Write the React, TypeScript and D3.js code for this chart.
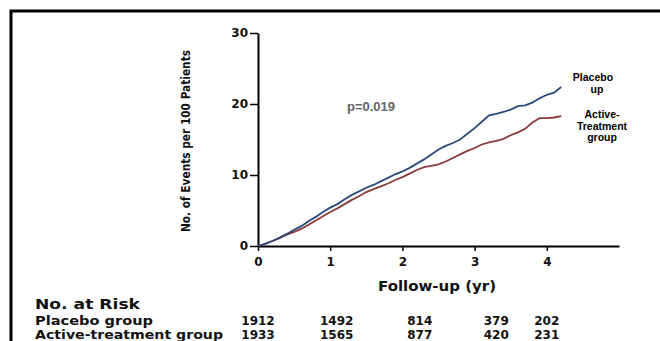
import React, { useEffect, useRef } from "react";
import * as d3 from "d3";

// follow-up times (yr) and cumulative events per 100 patients
const years = [
  0, 0.1, 0.2, 0.3, 0.4, 0.5, 0.6, 0.7, 0.8, 0.9, 1.0, 1.1, 1.2, 1.3, 1.4,
  1.5, 1.6, 1.7, 1.8, 1.9, 2.0, 2.1, 2.2, 2.3, 2.4, 2.5, 2.6, 2.7, 2.8, 2.9,
  3.0, 3.1, 3.2, 3.3, 3.4, 3.5, 3.6, 3.7, 3.8, 3.9, 4.0, 4.1, 4.2,
];
const placebo = [
  0, 0.3, 0.7, 1.2, 1.7, 2.3, 2.8, 3.5, 4.1, 4.8, 5.4, 5.9, 6.6, 7.2, 7.7,
  8.2, 8.6, 9.1, 9.6, 10.1, 10.5, 11.0, 11.6, 12.2, 12.9, 13.6, 14.1, 14.5,
  15.0, 15.8, 16.6, 17.5, 18.4, 18.6, 18.9, 19.2, 19.7, 19.8, 20.2, 20.8,
  21.3, 21.6, 22.4,
];
const active = [
  0, 0.3, 0.7, 1.1, 1.6, 2.0, 2.4, 3.0, 3.6, 4.2, 4.8, 5.3, 5.9, 6.5, 7.0,
  7.6, 8.0, 8.4, 8.8, 9.3, 9.7, 10.2, 10.7, 11.1, 11.3, 11.5, 11.9, 12.4,
  12.9, 13.4, 13.8, 14.3, 14.6, 14.8, 15.1, 15.6, 16.0, 16.5, 17.4, 18.0,
  18.0, 18.1, 18.3,
];

const xTicks = [0, 1, 2, 3, 4];
const yTicks = [0, 10, 20, 30];

// number at risk table
const riskRows = ["Placebo group", "Active-treatment group"];
const riskPlacebo = [1912, 1492, 814, 379, 202];
const riskActive = [1933, 1565, 877, 420, 231];
const riskCols = [0, 1.09, 2.24, 3.3, 4.0]; // column centres, in years

const pValue = "p=0.019";

export default function App() {
  const svgRef = useRef<SVGSVGElement>(null);

  useEffect(() => {
    const svg = d3.select(svgRef.current);
    svg.selectAll("*").remove();

    const bold = "'DejaVu Sans', sans-serif";
    const arial = "'Liberation Sans', Arial, sans-serif";

    const x = d3.scaleLinear().domain([0, 5]).range([258, 619]);
    const y = d3.scaleLinear().domain([0, 30]).range([246, 33]);

    // frame
    svg
      .append("rect")
      .attr("x", 11)
      .attr("y", 11)
      .attr("width", 720)
      .attr("height", 420)
      .attr("fill", "#fff")
      .attr("stroke", "#000")
      .attr("stroke-width", 3);

    // y axis
    const yAxis = svg
      .append("g")
      .attr("transform", `translate(${x(0)},0)`)
      .call(d3.axisLeft(y).tickValues(yTicks).tickSize(8).tickPadding(2).tickSizeOuter(0));
    yAxis.select(".domain").attr("stroke-width", 2);
    yAxis.selectAll(".tick line").attr("stroke-width", 1.5);
    yAxis
      .selectAll(".tick text")
      .attr("font-family", bold)
      .attr("font-weight", "bold")
      .attr("font-size", 12)
      .attr("fill", "#111");

    // x axis
    const xAxis = svg
      .append("g")
      .attr("transform", `translate(0,${y(0)})`)
      .call(
        d3
          .axisBottom(x)
          .tickValues(xTicks)
          .tickFormat(d3.format("d"))
          .tickSize(5)
          .tickPadding(6)
          .tickSizeOuter(0)
      );
    xAxis.select(".domain").attr("stroke-width", 2);
    xAxis.selectAll(".tick line").attr("stroke-width", 1.5);
    xAxis
      .selectAll(".tick text")
      .attr("font-family", bold)
      .attr("font-weight", "bold")
      .attr("font-size", 12)
      .attr("fill", "#111");

    // axis titles
    svg
      .append("text")
      .attr("transform", "translate(190,141) rotate(-90)")
      .attr("text-anchor", "middle")
      .attr("font-family", "'DejaVu Sans Condensed', 'DejaVu Sans', sans-serif")
      .attr("font-weight", "bold")
      .attr("font-size", 12.5)
      .attr("textLength", 182)
      .attr("lengthAdjust", "spacingAndGlyphs")
      .attr("fill", "#111")
      .text("No. of Events per 100 Patients");

    svg
      .append("text")
      .attr("x", 437)
      .attr("y", 291)
      .attr("text-anchor", "middle")
      .attr("font-family", bold)
      .attr("font-weight", "bold")
      .attr("font-size", 14)
      .attr("textLength", 118)
      .attr("lengthAdjust", "spacingAndGlyphs")
      .attr("fill", "#111")
      .text("Follow-up (yr)");

    // curves
    const line = d3
      .line<number>()
      .x((_, i) => x(years[i]))
      .y((d) => y(d));

    svg
      .append("path")
      .datum(active)
      .attr("d", line)
      .attr("fill", "none")
      .attr("stroke", "#8a3b3b")
      .attr("stroke-width", 1.8);

    svg
      .append("path")
      .datum(placebo)
      .attr("d", line)
      .attr("fill", "none")
      .attr("stroke", "#2b4a7e")
      .attr("stroke-width", 1.8);

    // p value
    svg
      .append("text")
      .attr("x", 347)
      .attr("y", 111)
      .attr("font-family", arial)
      .attr("font-weight", "bold")
      .attr("font-size", 13)
      .attr("fill", "#666")
      .text(pValue);

    // curve labels
    const labels = [
      { lines: ["Placebo", "up"], cx: [593, 597], y0: 81 },
      { lines: ["Active-", "Treatment", "group"], cx: [602, 602, 602], y0: 118 },
    ];
    labels.forEach((l) => {
      l.lines.forEach((t, i) => {
        svg
          .append("text")
          .attr("x", l.cx[i])
          .attr("y", l.y0 + i * 11.5)
          .attr("text-anchor", "middle")
          .attr("font-family", arial)
          .attr("font-weight", "bold")
          .attr("font-size", 10.5)
          .attr("fill", "#000")
          .text(t);
      });
    });

    // number at risk
    svg
      .append("text")
      .attr("x", 35)
      .attr("y", 309)
      .attr("font-family", bold)
      .attr("font-weight", "bold")
      .attr("font-size", 13.5)
      .attr("textLength", 105)
      .attr("lengthAdjust", "spacingAndGlyphs")
      .attr("fill", "#111")
      .text("No. at Risk");

    const rowWidths = [118, 188];
    [riskPlacebo, riskActive].forEach((row, r) => {
      const yy = 325 + r * 14;
      svg
        .append("text")
        .attr("x", 35)
        .attr("y", yy)
        .attr("font-family", bold)
        .attr("font-weight", "bold")
        .attr("font-size", 12)
        .attr("textLength", rowWidths[r])
        .attr("lengthAdjust", "spacingAndGlyphs")
        .attr("fill", "#111")
        .text(riskRows[r]);
      svg
        .selectAll(null)
        .data(row)
        .enter()
        .append("text")
        .attr("x", (_, i) => x(riskCols[i]))
        .attr("y", yy)
        .attr("text-anchor", "middle")
        .attr("font-family", bold)
        .attr("font-weight", "bold")
        .attr("font-size", 12)
        .attr("fill", "#111")
        .text((d) => d);
    });
  }, []);

  return (
    <svg
      ref={svgRef}
      width={660}
      height={341}
      style={{ position: "absolute", left: 0, top: 0, background: "#fff" }}
    />
  );
}
